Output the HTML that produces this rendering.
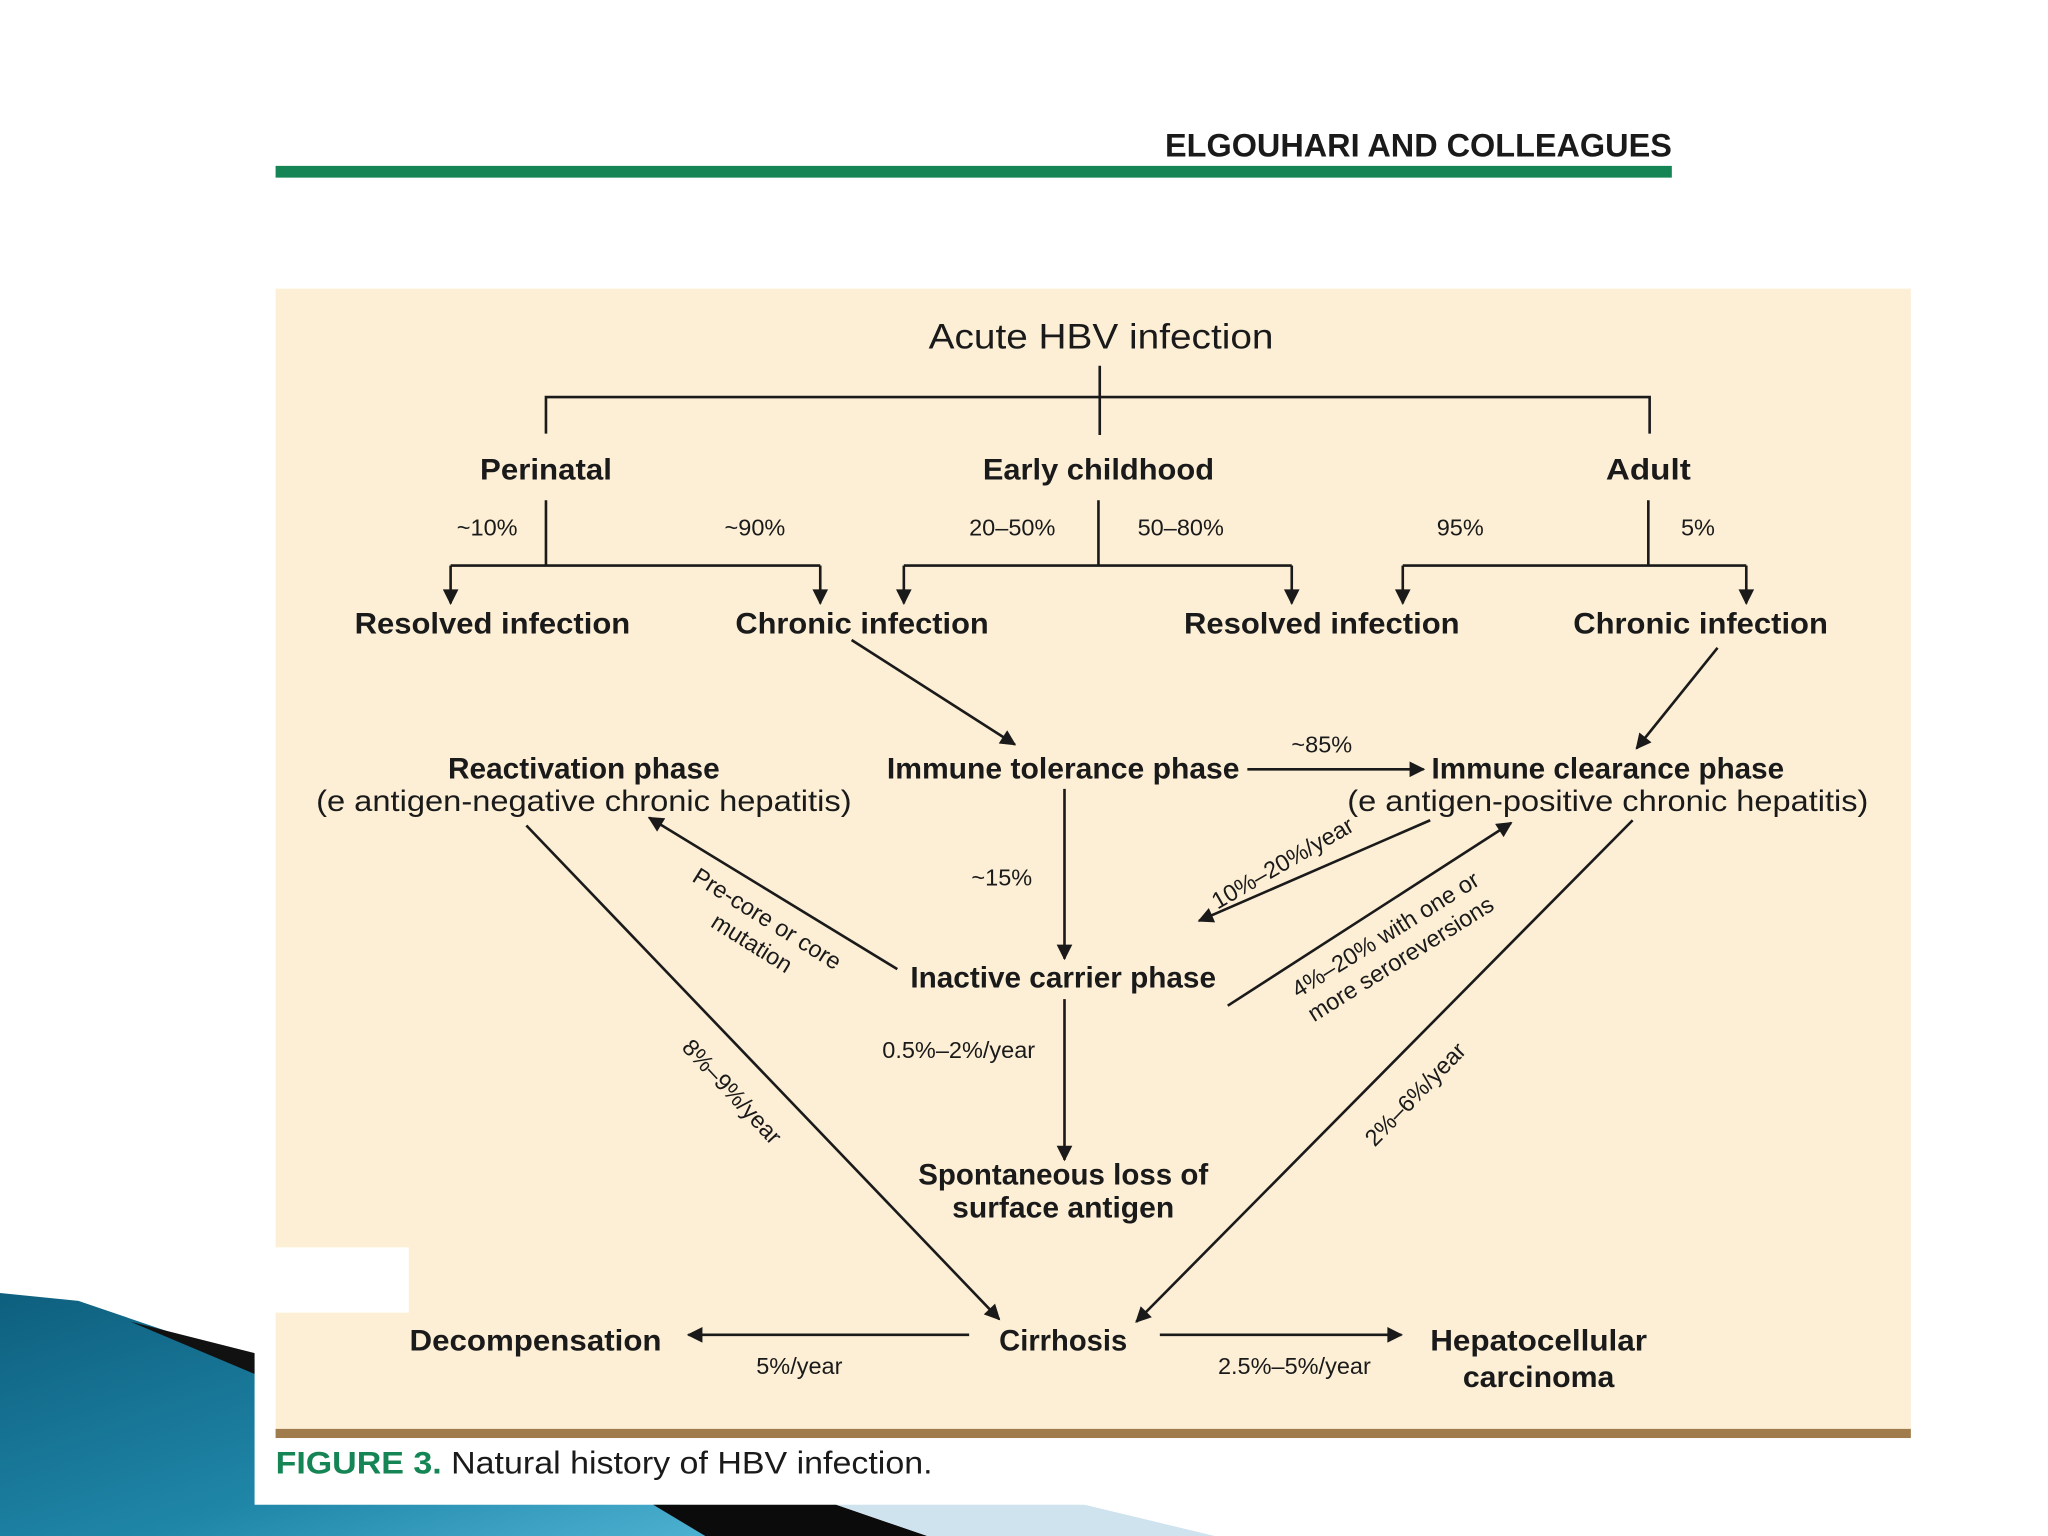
<!DOCTYPE html>
<html><head><meta charset="utf-8"><style>
html,body{margin:0;padding:0;background:#fff;}
svg{display:block;}
text{font-family:"Liberation Sans",sans-serif;fill:#1a1a1a;}
.b{font-weight:bold;font-size:23px;}
.r{font-size:23px;}
.s{font-size:18px;}
</style></head><body>
<svg width="2048" height="1536" viewBox="0 0 1568 1176" xmlns="http://www.w3.org/2000/svg">
<defs>
<linearGradient id="bl" x1="0" y1="0" x2="1" y2="1">
<stop offset="0" stop-color="#0e5f7e"/><stop offset="0.6" stop-color="#1f86a8"/><stop offset="1" stop-color="#4fb3d3"/>
</linearGradient>
<marker id="a" viewBox="0 0 10 10" refX="9" refY="5" markerWidth="13" markerHeight="12" markerUnits="userSpaceOnUse" orient="auto">
<path d="M0,0 L10,5 L0,10 z" fill="#1a1a1a"/>
</marker>
</defs>
<rect width="1568" height="1176" fill="#fff"/>
<polygon points="0,990 60,996 195,1042 195,1152 520,1152 560,1176 0,1176" fill="url(#bl)"/>
<polygon points="100,1012 195,1036 195,1052" fill="#111"/>
<polygon points="500,1152 640,1152 710,1176 540,1176" fill="#0b0b0b"/>
<polygon points="640,1152 830,1152 930,1176 710,1176" fill="#cfe3ee"/>
<rect x="195" y="0" width="1373" height="1152" fill="#fff"/>
<text x="1280" y="120" text-anchor="end" style="font-weight:bold;font-size:25px" textLength="388" lengthAdjust="spacingAndGlyphs">ELGOUHARI AND COLLEAGUES</text>
<rect x="211" y="127" width="1069" height="9" fill="#168556"/>
<rect x="211" y="221" width="1252" height="874" fill="#fcefd6"/>
<rect x="211" y="955" width="102" height="50" fill="#fff"/>
<rect x="211" y="1094" width="1252" height="7" fill="#a07b4c"/>
<text x="211" y="1128" style="font-size:24px" textLength="503" lengthAdjust="spacingAndGlyphs"><tspan style="fill:#168556;font-weight:bold">FIGURE 3.</tspan> Natural history of HBV infection.</text>

<g stroke="#1a1a1a" stroke-width="2" fill="none">
<path d="M842,280 V333 M418,332 V304 H1263 V332"/>
<path d="M418,383 V433 M345,433 H628 M841,383 V433 M692,433 H989 M1262,383 V433 M1074,433 H1337"/>
<path d="M345,433 V462" marker-end="url(#a)"/>
<path d="M628,433 V462" marker-end="url(#a)"/>
<path d="M692,433 V462" marker-end="url(#a)"/>
<path d="M989,433 V462" marker-end="url(#a)"/>
<path d="M1074,433 V462" marker-end="url(#a)"/>
<path d="M1337,433 V462" marker-end="url(#a)"/>
<path d="M652,490 L777,570" marker-end="url(#a)"/>
<path d="M1315,496 L1253,573" marker-end="url(#a)"/>
<path d="M955,589 H1090" marker-end="url(#a)"/>
<path d="M815,604 V734" marker-end="url(#a)"/>
<path d="M687,742 L497,626" marker-end="url(#a)"/>
<path d="M1095,628 L918,705" marker-end="url(#a)"/>
<path d="M940,770 L1157,630" marker-end="url(#a)"/>
<path d="M815,765 V888" marker-end="url(#a)"/>
<path d="M403,632 L765,1010" marker-end="url(#a)"/>
<path d="M1250,628 L870,1012" marker-end="url(#a)"/>
<path d="M742,1022 H527" marker-end="url(#a)"/>
<path d="M888,1022 H1073" marker-end="url(#a)"/>
</g>

<text x="843" y="267" text-anchor="middle" style="font-size:27px" textLength="264" lengthAdjust="spacingAndGlyphs">Acute HBV infection</text>
<text class="b" x="418" y="367" text-anchor="middle" textLength="101" lengthAdjust="spacingAndGlyphs">Perinatal</text>
<text class="b" x="841" y="367" text-anchor="middle" textLength="177" lengthAdjust="spacingAndGlyphs">Early childhood</text>
<text class="b" x="1262" y="367" text-anchor="middle" textLength="65" lengthAdjust="spacingAndGlyphs">Adult</text>
<text class="s" x="373" y="410" text-anchor="middle">~10%</text>
<text class="s" x="578" y="410" text-anchor="middle">~90%</text>
<text class="s" x="775" y="410" text-anchor="middle">20–50%</text>
<text class="s" x="904" y="410" text-anchor="middle">50–80%</text>
<text class="s" x="1118" y="410" text-anchor="middle">95%</text>
<text class="s" x="1300" y="410" text-anchor="middle">5%</text>
<text class="b" x="377" y="485" text-anchor="middle" textLength="211" lengthAdjust="spacingAndGlyphs">Resolved infection</text>
<text class="b" x="660" y="485" text-anchor="middle" textLength="194" lengthAdjust="spacingAndGlyphs">Chronic infection</text>
<text class="b" x="1012" y="485" text-anchor="middle" textLength="211" lengthAdjust="spacingAndGlyphs">Resolved infection</text>
<text class="b" x="1302" y="485" text-anchor="middle" textLength="195" lengthAdjust="spacingAndGlyphs">Chronic infection</text>

<text class="b" x="814" y="596" text-anchor="middle" textLength="270" lengthAdjust="spacingAndGlyphs">Immune tolerance phase</text>
<text class="s" x="1012" y="576" text-anchor="middle">~85%</text>
<text class="b" x="1231" y="596" text-anchor="middle" textLength="270" lengthAdjust="spacingAndGlyphs">Immune clearance phase</text>
<text class="r" x="1231" y="621" text-anchor="middle" textLength="399" lengthAdjust="spacingAndGlyphs">(e antigen-positive chronic hepatitis)</text>
<text class="b" x="447" y="596" text-anchor="middle" textLength="208" lengthAdjust="spacingAndGlyphs">Reactivation phase</text>
<text class="r" x="447" y="621" text-anchor="middle" textLength="410" lengthAdjust="spacingAndGlyphs">(e antigen-negative chronic hepatitis)</text>
<text class="s" x="767" y="678" text-anchor="middle">~15%</text>
<text class="b" x="814" y="756" text-anchor="middle" textLength="234" lengthAdjust="spacingAndGlyphs">Inactive carrier phase</text>

<g transform="translate(582,712) rotate(32)">
<text class="s" x="0" y="-4" text-anchor="middle">Pre-core or core</text>
<text class="s" x="0" y="18" text-anchor="middle">mutation</text>
</g>
<g transform="translate(985,666) rotate(-30)">
<text class="s" x="0" y="0" text-anchor="middle">10%–20%/year</text>
</g>
<g transform="translate(1066,724) rotate(-32)">
<text class="s" x="0" y="-4" text-anchor="middle">4%–20% with one or</text>
<text class="s" x="0" y="18" text-anchor="middle">more seroreversions</text>
</g>
<g transform="translate(556,840) rotate(47)">
<text class="s" x="0" y="0" text-anchor="middle">8%–9%/year</text>
</g>
<g transform="translate(1088,842) rotate(-46)">
<text class="s" x="0" y="0" text-anchor="middle">2%–6%/year</text>
</g>

<text class="s" x="734" y="810" text-anchor="middle">0.5%–2%/year</text>
<text class="b" x="814" y="907" text-anchor="middle" textLength="222" lengthAdjust="spacingAndGlyphs">Spontaneous loss of</text>
<text class="b" x="814" y="932" text-anchor="middle" textLength="170" lengthAdjust="spacingAndGlyphs">surface antigen</text>
<text class="b" x="814" y="1034" text-anchor="middle" textLength="98" lengthAdjust="spacingAndGlyphs">Cirrhosis</text>
<text class="b" x="410" y="1034" text-anchor="middle" textLength="193" lengthAdjust="spacingAndGlyphs">Decompensation</text>
<text class="s" x="612" y="1052" text-anchor="middle">5%/year</text>
<text class="s" x="991" y="1052" text-anchor="middle">2.5%–5%/year</text>
<text class="b" x="1178" y="1034" text-anchor="middle" textLength="166" lengthAdjust="spacingAndGlyphs">Hepatocellular</text>
<text class="b" x="1178" y="1062" text-anchor="middle" textLength="116" lengthAdjust="spacingAndGlyphs">carcinoma</text>
</svg>
</body></html>
